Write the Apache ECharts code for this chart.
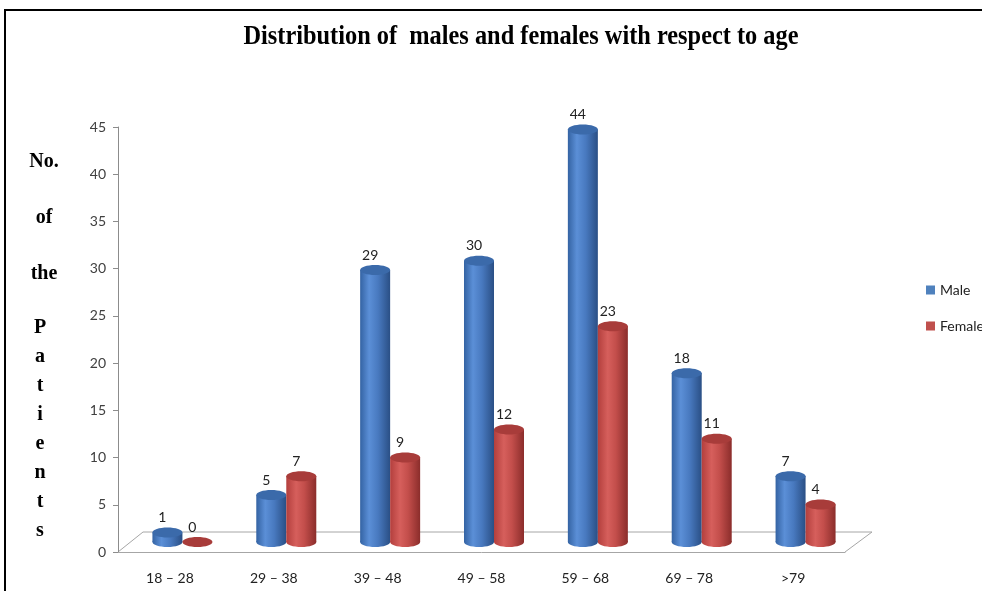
<!DOCTYPE html>
<html>
<head>
<meta charset="utf-8">
<script src="https://cdn.jsdelivr.net/npm/echarts@6/dist/echarts.min.js"></script>
<style>
html,body{margin:0;padding:0;background:#fff;}
#chart{width:982px;height:591px;}
</style>
</head>
<body>
<div id="chart"></div>
<script>
const categories = ['18 – 28', '29 – 38', '39 – 48', '49 – 58', '59 – 68', '69 – 78', '>79'];
const maleValues = [1, 5, 29, 30, 44, 18, 7];
const femaleValues = [0, 7, 9, 12, 23, 11, 4];
const yMin = 0, yMax = 45, yInterval = 5;
const titleText = 'Distribution of  males and females with respect to age';
const yTitleWords = ['No.', 'of', 'the'];
const yTitleLetters = ['P', 'a', 't', 'i', 'e', 'n', 't', 's'];

const chart = echarts.init(document.getElementById('chart'));

const BAR_W = 30, RY = 5;
const styles = {
  male: {
    body: new echarts.graphic.LinearGradient(0, 0, 1, 0, [
      {offset: 0, color: '#3463a3'}, {offset: 0.3, color: '#5b8fd7'},
      {offset: 0.6, color: '#4879bf'}, {offset: 1, color: '#2a4f85'}]),
    top: '#3b6aaa'
  },
  female: {
    body: new echarts.graphic.LinearGradient(0, 0, 1, 0, [
      {offset: 0, color: '#b33f3d'}, {offset: 0.33, color: '#d65f5c'},
      {offset: 0.6, color: '#c34e4b'}, {offset: 1, color: '#8b2d2b'}]),
    top: '#a83c3a'
  }
};

function makeRender(key, dx) {
  return function (params, api) {
    const idx = api.value(0), v = api.value(1);
    const top = api.coord([idx, v]);
    const base = api.coord([idx, 0]);
    const cx = top[0] + dx;
    const st = styles[key];
    const children = [];
    if (v > 0) {
      children.push({type: 'ellipse', shape: {cx: cx, cy: base[1], rx: BAR_W / 2, ry: RY}, style: {fill: st.body}});
      children.push({type: 'rect', shape: {x: cx - BAR_W / 2, y: top[1], width: BAR_W, height: base[1] - top[1]}, style: {fill: st.body}});
    }
    children.push({type: 'ellipse', shape: {cx: cx, cy: top[1], rx: BAR_W / 2, ry: RY}, style: {fill: st.top}});
    children.push({type: 'text', style: {text: String(v), x: cx - 5, y: top[1] - 15, align: 'center', verticalAlign: 'middle', fill: '#222', font: '14px Lato'}});
    return {type: 'group', children: children};
  };
}

const graphics = [
  {type: 'rect', shape: {x: 5, y: 10, width: 1000, height: 600}, style: {fill: 'none', stroke: '#000', lineWidth: 2}, z: 0},
  {type: 'polyline', shape: {points: [[118, 552], [143, 532], [872, 532], [845, 552]]}, style: {stroke: '#a6a6a6', lineWidth: 1, fill: 'none'}, z: 0},
  {type: 'text', x: 521, y: 37, scaleX: 0.87, style: {text: titleText, font: 'bold 28px "Liberation Serif"', fill: '#000', align: 'center', verticalAlign: 'middle', x: 0, y: 0}}
];
const wordY = [162, 218, 274];
yTitleWords.forEach((w, i) => graphics.push({type: 'text', style: {text: w, x: 44, y: wordY[i], align: 'center', verticalAlign: 'middle', font: 'bold 20px "Liberation Serif"', fill: '#000'}}));
yTitleLetters.forEach((w, i) => graphics.push({type: 'text', style: {text: w, x: 40, y: 328 + i * 29, align: 'center', verticalAlign: 'middle', font: 'bold 20px "Liberation Serif"', fill: '#000'}}));

const option = {
  animation: false,
  backgroundColor: '#fff',
  legend: {
    orient: 'vertical', left: 926, top: 283, itemWidth: 9, itemHeight: 9, itemGap: 22, padding: 0,
    icon: 'rect', textStyle: {fontFamily: 'Lato', fontSize: 14, color: '#222'},
    data: ['Male', 'Female']
  },
  grid: [
    {left: 118, width: 727, top: 127, height: 425},
    {left: 130.5, width: 727, top: 120, height: 422}
  ],
  xAxis: [
    {type: 'category', gridIndex: 0, data: categories,
     axisLine: {lineStyle: {color: '#a6a6a6'}}, axisTick: {length: 5, lineStyle: {color: '#a6a6a6'}},
     axisLabel: {margin: 19, color: '#222', fontFamily: 'Lato', fontSize: 14}},
    {type: 'category', gridIndex: 1, data: categories, show: false}
  ],
  yAxis: [
    {type: 'value', gridIndex: 0, min: yMin, max: yMax, interval: yInterval,
     axisLine: {show: true, lineStyle: {color: '#8c8c8c'}}, axisTick: {show: true, length: 5, lineStyle: {color: '#8c8c8c'}},
     splitLine: {show: false}, axisLabel: {margin: 12, color: '#404040', fontFamily: 'Lato', fontSize: 14}},
    {type: 'value', gridIndex: 1, min: yMin, max: yMax, interval: yInterval, show: false, splitLine: {show: false}}
  ],
  graphic: graphics,
  series: [
    {name: 'Male', type: 'custom', xAxisIndex: 1, yAxisIndex: 1, itemStyle: {color: '#4f81bd'},
     data: maleValues.map((v, i) => [i, v]), renderItem: makeRender('male', -15), encode: {x: 0, y: 1}},
    {name: 'Female', type: 'custom', xAxisIndex: 1, yAxisIndex: 1, itemStyle: {color: '#c0504d'},
     data: femaleValues.map((v, i) => [i, v]), renderItem: makeRender('female', 15), encode: {x: 0, y: 1}}
  ]
};
chart.setOption(option);
</script>
</body>
</html>
